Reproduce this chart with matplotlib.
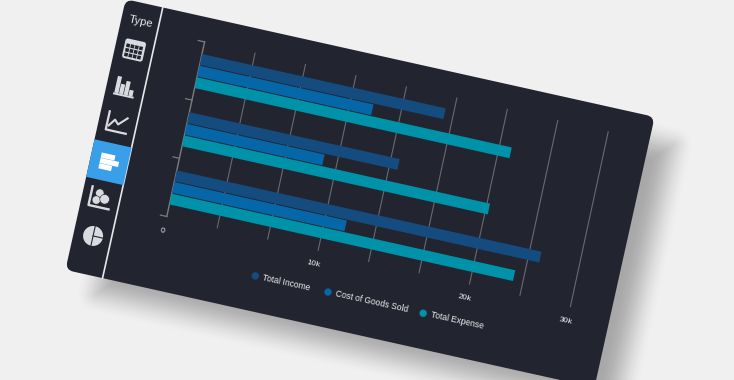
import numpy as np
import matplotlib
matplotlib.use("Agg")
import matplotlib.pyplot as plt
from matplotlib.patches import FancyBboxPatch, Rectangle, Circle
from matplotlib.transforms import Affine2D

# ---- data (values in thousands on the chart's linear axis) ----
series_names = ["Total Income", "Cost of Goods Sold", "Total Expense"]
total_income = [24.1, 13.9, 16.1]     # bottom, middle, top group
cost_of_goods = [11.4, 9.1, 11.5]
total_expense = [22.7, 20.2, 20.8]
series_colors = ["#154c80", "#0567a8", "#0092a8"]
grid_steps = [0, 1, 2, 3, 4, 5, 6, 7, 8]
tick_steps = [0, 3, 6, 8]
tick_labels = ["0", "10k", "20k", "30k"]
sidebar_title = "Type"

BG, CARD, ICON = "#f0f0f0", "#22252f", "#d9dbe1"
plt.rcParams["font.family"] = ["Liberation Sans", "DejaVu Sans"]

W, H = 734, 380
fig = plt.figure(figsize=(W / 100, H / 100), dpi=100, facecolor=BG)
ax = fig.add_axes([0, 0, 1, 1])
ax.set_xlim(0, W)
ax.set_ylim(H, 0)
ax.axis("off")
ax.autoscale(False)

# card frame (pixels, y down)
ANG = 12.55
TL = (125.7, -0.8)
CW, CH = 541.9, 277.3
card_aff = Affine2D().rotate_deg(ANG).translate(*TL)
card_T = card_aff + ax.transData

# chart frame: x in thousands, y in category bands
K = 3 / 10.0
XV = (50.45 * K, 11.25 * K)
YV = (12.6, -58.2)
OR = (166.8, 216.5)
chart_aff = Affine2D.from_values(XV[0], XV[1], YV[0], YV[1], OR[0], OR[1])
chart_T = chart_aff + ax.transData

# shadow
yy, xx = np.mgrid[0:H, 0:W] + 0.5
c, s = np.cos(np.radians(ANG)), np.sin(np.radians(ANG))
u = (xx - TL[0]) * c + (yy - TL[1]) * s
v = -(xx - TL[0]) * s + (yy - TL[1]) * c
su0, su1, sv0, sv1 = 36, CW + 24, 24, CH + 16
cu, cv = (su0 + su1) / 2, (sv0 + sv1) / 2
hu, hv = (su1 - su0) / 2, (sv1 - sv0) / 2
qu, qv = np.abs(u - cu) - hu, np.abs(v - cv) - hv
d = np.hypot(np.maximum(qu, 0), np.maximum(qv, 0)) + np.minimum(np.maximum(qu, qv), 0)
t = np.clip(0.5 - d / 44, 0, 1)
a = 0.3 * t * t * (3 - 2 * t)
img = np.zeros((H, W, 4))
img[..., 3] = a
ax.imshow(img, extent=(0, W, H, 0), zorder=0, aspect="auto", interpolation="bilinear")
ax.set_xlim(0, W)
ax.set_ylim(H, 0)

# card
ax.add_patch(FancyBboxPatch((0, 0), CW, CH, boxstyle="round,pad=0,rounding_size=8",
                            fc=CARD, ec="none", transform=card_T, zorder=1))
# sidebar
ax.plot([38, 38], [0.2, CH], color="#e6e7ea", lw=1.2, transform=card_T, zorder=2)
ax.add_patch(Rectangle((0, 143.5), 38, 38.5, fc="#3a9fe9", ec="none", transform=card_T, zorder=2))
tx, ty = card_aff.transform((19.6, 18.6))
ax.text(tx, ty, sidebar_title, color="#e4e5e9", fontsize=8.2, rotation=-ANG,
        rotation_mode="anchor", ha="center", va="center", zorder=3)


def icon_T(cx, cy):
    return Affine2D().translate(cx, cy) + card_T


def rect(tr, x, y, w, h, col):
    ax.add_patch(Rectangle((x, y), w, h, fc=col, ec="none", transform=tr, zorder=3))


# table icon
tr = icon_T(19.2, 47.8)
ax.add_patch(FancyBboxPatch((-10.5, -10), 21, 20, boxstyle="round,pad=0,rounding_size=2.5",
                            fc=ICON, ec="none", transform=tr, zorder=3))
for r in range(3):
    for q in range(4):
        rect(tr, -8.6 + q * 4.4, -5 + r * 4.7, 3.6, 3.6, CARD)

# bars icon
tr = icon_T(18.6, 85.5)
for bx, bh in zip([-9.5, -4.7, 0.1, 4.9], [17, 10, 14, 6]):
    rect(tr, bx, 8 - bh, 4.2, bh, ICON)
rect(tr, -10.5, 8, 21, 2, ICON)

# line icon
tr = icon_T(18.8, 122.9)
ax.plot([-10, -10, 10.5], [-10, 8.5, 8.5], color=ICON, lw=1.6, transform=tr, zorder=3)
ax.plot([-8, -3, 1, 9], [4, -3, 1, -7], color=ICON, lw=1.5, transform=tr, zorder=3)

# active horizontal-bar icon
tr = icon_T(19, 162.8)
rect(tr, -9, -8, 14, 5.2, "white")
rect(tr, -9, -2.5, 19, 5.2, "white")
rect(tr, -9, 3, 13, 5.2, "white")

# scatter icon
tr = icon_T(18.4, 199.9)
ax.plot([-10, -10, 10.5], [-10, 9, 9], color=ICON, lw=1.7, transform=tr, zorder=3)
for ccx, ccy, rr in [(-1.5, -5, 4.2), (-3.5, 2.5, 4.2), (4.5, 0, 4.8)]:
    ax.add_patch(Circle((ccx, ccy), rr, fc=ICON, ec=CARD, lw=0.4, transform=tr, zorder=3))

# pie icon
tr = icon_T(19.6, 238.2)
ax.add_patch(Circle((0, 0), 10, fc=ICON, ec="none", transform=tr, zorder=3))
ax.plot([0, 0], [-10, 10], color=CARD, lw=0.8, transform=tr, zorder=3)
ax.plot([0, 10], [0, 0], color=CARD, lw=0.8, transform=tr, zorder=3)

# chart grid and axis
grid_values = [g * 10 / 3 for g in grid_steps]
for gv in grid_values[1:]:
    ax.plot([gv, gv], [0, 3], color="#686a70", lw=0.8, transform=chart_T, zorder=2)
ax.plot([0, 0], [0, 3], color="#7b7c80", lw=1.0, transform=chart_T, zorder=2)
for cat in range(4):
    ax.plot([-0.42, 0], [cat, cat], color="#7b7c80", lw=0.9, transform=chart_T, zorder=2)

# bars
positions = np.array([0.5, 1.5, 2.5])
for offs, vals, col in zip([0.2, 0.0, -0.2], [total_income, cost_of_goods, total_expense], series_colors):
    ax.barh(positions + offs, vals, height=0.185, color=col, transform=chart_T, zorder=3)

# tick labels
for st, lab in zip(tick_steps, tick_labels):
    px, py = chart_aff.transform((st * 10 / 3, -0.26))
    ax.text(px - 1.5, py - 1, lab, color="#eeeef1", fontsize=6.0, rotation=-ANG, rotation_mode="anchor",
            ha="center", va="center", zorder=3)

# legend
legend_u = [186.7, 261.1, 358.6]
for lu, name, col in zip(legend_u, series_names, series_colors):
    ax.add_patch(Circle((lu, 241.9), 3.7, fc=col, ec="none", transform=card_T, zorder=3))
    px, py = card_aff.transform((lu + 7.6, 241.9))
    ax.text(px, py, name, color="#eeeef1", fontsize=6.15, rotation=-ANG, rotation_mode="anchor",
            ha="left", va="center", zorder=3)

fig.savefig("out.png", dpi=100, facecolor=BG)
